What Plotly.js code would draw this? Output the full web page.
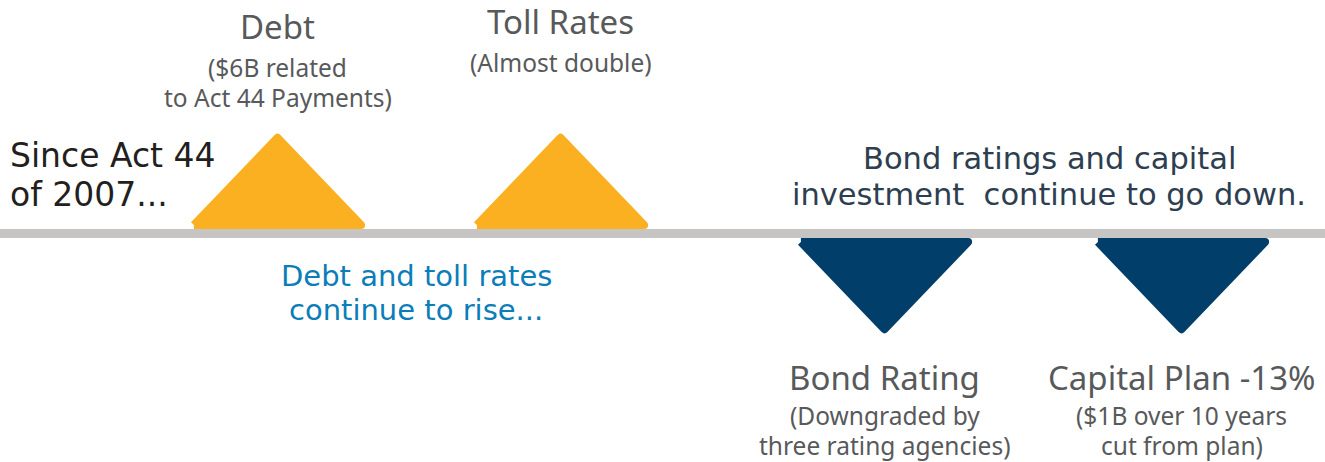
<!DOCTYPE html>
<html>
<head>
<meta charset="utf-8">
<script src="https://cdn.plot.ly/plotly-3.0.1.min.js"></script>
<style>
  html, body { margin: 0; padding: 0; background: #ffffff; }
  #chart { width: 1325px; height: 462px; }
  /* round the triangle corners */
  .scatterlayer path.js-line, .scatterlayer path.js-fill { stroke-linejoin: round !important; }
</style>
</head>
<body>
<div id="chart"></div>
<script>
// data
const categories = ['Debt', 'Toll Rates', 'Bond Rating', 'Capital Plan -13%'];
const notes = [
    ['($6B related', 'to Act 44 Payments)'],
    ['(Almost double)'],
    ['(Downgraded by', 'three rating agencies)'],
    ['($1B over 10 years', 'cut from plan)']
];
const direction = [1, 1, -1, -1]; // 1 = going up, -1 = going down
const intro = ['Since Act 44', 'of 2007...'];
const upText = ['Debt and toll rates', 'continue to rise...'];
const downText = ['Bond ratings and capital', 'investment\u00a0 continue to go down.'];

// layout constants (pixel units, axes map 1 unit = 1 px)
const W = 1325, H = 462;
const lineY = 233.5;             // pixel row of the grey baseline
const lineW = 9;
const centers = [277.5, 560.5, 884.5, 1181.5];
const halfW = 93;
const triH = 97;
const edge = 8;                  // stroke width used to round the corners
const colors = {1: '#fbb022', '-1': '#013e6a'};

const toY = p => lineY - p;      // pixel row -> axis value

// triangle outline, pulled in by half the stroke so the rounded stroke fits the original size
function triangle(cx, dir) {
    const b = dir * lineW / 2;
    const L = Math.sqrt(halfW * halfW + triH * triH);
    const r = halfW * triH / (halfW + L);      // inradius
    const k = (r - edge / 2) / r;
    const iy = b + dir * r;                    // incenter
    const pts = [[cx - halfW, b], [cx + halfW, b], [cx, b + dir * triH]];
    const xs = [], ys = [];
    pts.concat([pts[0]]).forEach(p => {
        xs.push(cx + k * (p[0] - cx));
        ys.push(iy + k * (p[1] - iy));
    });
    return {x: xs, y: ys};
}

const traces = categories.map((name, i) => {
    const t = triangle(centers[i], direction[i]);
    const c = colors[direction[i]];
    return {
        x: t.x,
        y: t.y,
        name: name,
        mode: 'lines',
        fill: 'toself',
        fillcolor: c,
        line: {color: c, width: edge},
        hoverinfo: 'name',
        showlegend: false
    };
});

const labelFont = {family: '"Noto Sans", Lato, sans-serif', color: '#58595b'};
const headFont = {family: '"DejaVu Sans", sans-serif'};

// rows (pixel y of text centre)
const titleRows = [26, 21, 377, 377];
const noteRows = [67, 62, 415, 415];
const noteGap = 30;

const annotations = [];

function addText(text, x, row, size, font, anchor) {
    annotations.push({
        x: x, y: toY(row), xref: 'x', yref: 'y',
        text: text, showarrow: false,
        xanchor: anchor || 'center', yanchor: 'middle',
        font: Object.assign({size: size}, font)
    });
}

categories.forEach((name, i) => {
    addText(name, centers[i], titleRows[i], 33, labelFont);
    notes[i].forEach((line, j) => {
        addText(line, centers[i], noteRows[i] + j * noteGap, 24.5, labelFont);
    });
});

intro.forEach((line, j) => {
    addText(line, 8, [155.5, 194.5][j], 33, Object.assign({color: '#231f20'}, headFont), 'left');
});
upText.forEach((line, j) => {
    addText(line, 416, [276, 310][j], 29, Object.assign({color: '#0b7db8'}, headFont));
});
downText.forEach((line, j) => {
    addText(line, 1049, [158.5, 194.5][j], 30.5, Object.assign({color: '#2d3e50'}, headFont));
});

const layout = {
    width: W,
    height: H,
    margin: {l: 0, r: 0, t: 0, b: 0},
    paper_bgcolor: '#ffffff',
    plot_bgcolor: '#ffffff',
    xaxis: {range: [0, W], visible: false, fixedrange: true},
    yaxis: {
        range: [toY(H), toY(0)],
        showgrid: false, showticklabels: false, ticks: '',
        zeroline: true, zerolinecolor: '#c6c5c3', zerolinewidth: lineW,
        showline: false, fixedrange: true
    },
    annotations: annotations,
    showlegend: false
};

Plotly.newPlot('chart', traces, layout, {displayModeBar: false, staticPlot: true});
</script>
</body>
</html>
